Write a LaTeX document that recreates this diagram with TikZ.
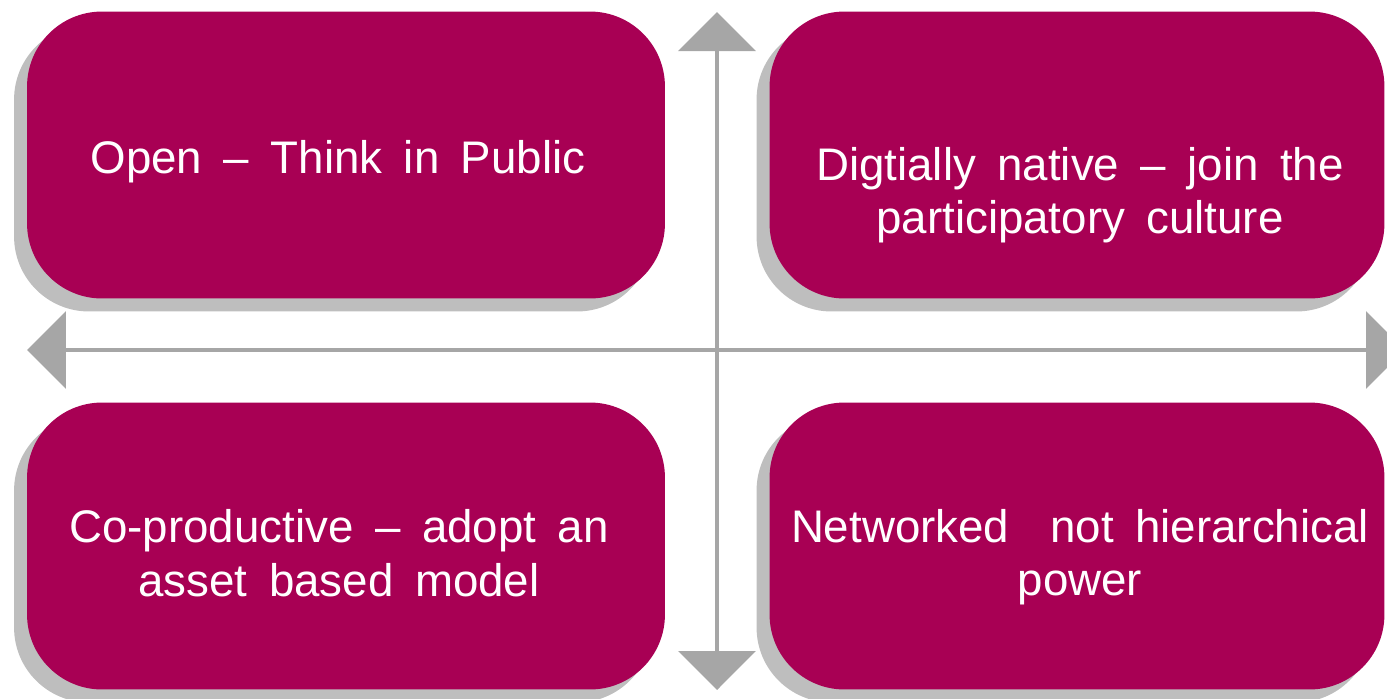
\documentclass[tikz,border=0pt]{standalone}
\usepackage{fontspec}
\setmainfont{Liberation Sans}
\usepackage{xcolor}
\usetikzlibrary{arrows.meta}
\usetikzlibrary{shadows}
\definecolor{plum}{HTML}{A80054}
\definecolor{axisgray}{HTML}{A6A6A6}
\definecolor{shadegray}{HTML}{BEBEBE}
\newcommand{\quadfont}{\fontsize{26}{30.5}\selectfont\spaceskip=0.47em\relax}

\begin{document}
\begin{tikzpicture}[
			     x=0.02cm, y=-0.02cm,
			     quad/.style={rounded corners=1.5cm, fill=plum, inner sep=0pt, minimum height=5.74cm,
			       drop shadow={shadow xshift=-0.26cm, shadow yshift=-0.26cm, fill=shadegray, opacity=1}},
			     left quad/.style={quad, minimum width=12.76cm},
			     right quad/.style={quad, minimum width=12.3cm},
			     quad text/.style={text=white, align=center, font=\quadfont, inner sep=0pt},
			     axis line/.style={draw=axisgray, line width=0.08cm,
			       {Triangle[length=0.78cm,width=1.54cm]}-{Triangle[length=0.78cm,width=1.54cm]}}
			     ]
\path[use as bounding box, clip] (0,0) rectangle (1387,698);
% axes
\coordinate (west) at (27,350);
\coordinate (east) at (1405,350);
\coordinate (north) at (717,12);
\coordinate (south) at (717,690);
\draw[axis line] (west) -- (east);
\draw[axis line] (north) -- (south);
% quadrants
\node[left quad] (open) at (346,155) {};
\node[right quad] (digital) at (1077,155) {};
\node[left quad] (coprod) at (346,546) {};
\node[right quad] (network) at (1077,546) {};
\node[quad text] (open text) at (338,162) {Open -- Think in Public};
\node[quad text] (digital text) at (1080,195) {Digtially native -- join the\\participatory culture};
\node[quad text] (coprod text) at (339,553) {Co-productive -- adopt an\\asset based model};
\node[quad text] (network text) at (1080,557) {Networked\hspace{0.9em}not hierarchical\\power};
\end{tikzpicture}
\end{document}
